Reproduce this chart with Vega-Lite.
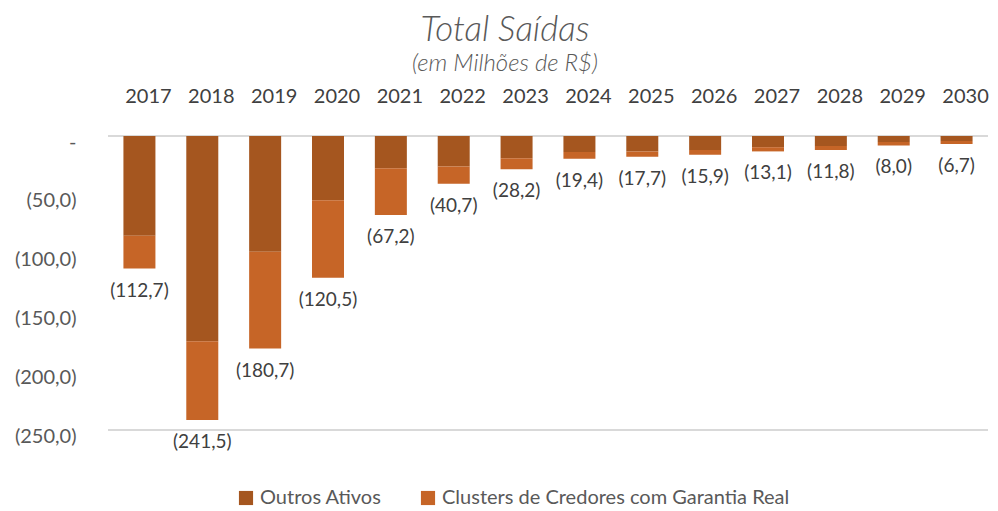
{
  "$schema": "https://vega.github.io/schema/vega-lite/v6.json",
  "width": 880,
  "height": 294,
  "autosize": {"type": "none"},
  "padding": {"left": 108, "top": 136, "right": 10, "bottom": 81},
  "background": "white",
  "title": {
    "text": "Total Saídas",
    "subtitle": "(em Milhões de R$)",
    "anchor": "middle",
    "dx": -43,
    "offset": 10,
    "font": "Lato",
    "fontSize": 35,
    "fontStyle": "italic",
    "fontWeight": 300,
    "color": "#595959",
    "subtitleFont": "Lato",
    "subtitleFontSize": 24,
    "subtitleFontStyle": "italic",
    "subtitleFontWeight": 300,
    "subtitleColor": "#595959",
    "subtitlePadding": 4
  },
  "config": {
    "view": {"stroke": null},
    "font": "Lato"
  },
  "datasets": {
    "bars": [
      {"ano": "2017", "serie": "Outros Ativos", "valor": -84.8, "ordem": 1},
      {"ano": "2017", "serie": "Clusters de Credores com Garantia Real", "valor": -27.9, "ordem": 2},
      {"ano": "2018", "serie": "Outros Ativos", "valor": -174.5, "ordem": 1},
      {"ano": "2018", "serie": "Clusters de Credores com Garantia Real", "valor": -67.0, "ordem": 2},
      {"ano": "2019", "serie": "Outros Ativos", "valor": -98.5, "ordem": 1},
      {"ano": "2019", "serie": "Clusters de Credores com Garantia Real", "valor": -82.2, "ordem": 2},
      {"ano": "2020", "serie": "Outros Ativos", "valor": -54.6, "ordem": 1},
      {"ano": "2020", "serie": "Clusters de Credores com Garantia Real", "valor": -65.9, "ordem": 2},
      {"ano": "2021", "serie": "Outros Ativos", "valor": -27.4, "ordem": 1},
      {"ano": "2021", "serie": "Clusters de Credores com Garantia Real", "valor": -39.8, "ordem": 2},
      {"ano": "2022", "serie": "Outros Ativos", "valor": -26.0, "ordem": 1},
      {"ano": "2022", "serie": "Clusters de Credores com Garantia Real", "valor": -14.7, "ordem": 2},
      {"ano": "2023", "serie": "Outros Ativos", "valor": -18.9, "ordem": 1},
      {"ano": "2023", "serie": "Clusters de Credores com Garantia Real", "valor": -9.3, "ordem": 2},
      {"ano": "2024", "serie": "Outros Ativos", "valor": -13.7, "ordem": 1},
      {"ano": "2024", "serie": "Clusters de Credores com Garantia Real", "valor": -5.7, "ordem": 2},
      {"ano": "2025", "serie": "Outros Ativos", "valor": -13.1, "ordem": 1},
      {"ano": "2025", "serie": "Clusters de Credores com Garantia Real", "valor": -4.6, "ordem": 2},
      {"ano": "2026", "serie": "Outros Ativos", "valor": -12.0, "ordem": 1},
      {"ano": "2026", "serie": "Clusters de Credores com Garantia Real", "valor": -3.9, "ordem": 2},
      {"ano": "2027", "serie": "Outros Ativos", "valor": -9.5, "ordem": 1},
      {"ano": "2027", "serie": "Clusters de Credores com Garantia Real", "valor": -3.6, "ordem": 2},
      {"ano": "2028", "serie": "Outros Ativos", "valor": -8.5, "ordem": 1},
      {"ano": "2028", "serie": "Clusters de Credores com Garantia Real", "valor": -3.3, "ordem": 2},
      {"ano": "2029", "serie": "Outros Ativos", "valor": -5.2, "ordem": 1},
      {"ano": "2029", "serie": "Clusters de Credores com Garantia Real", "valor": -2.8, "ordem": 2},
      {"ano": "2030", "serie": "Outros Ativos", "valor": -4.2, "ordem": 1},
      {"ano": "2030", "serie": "Clusters de Credores com Garantia Real", "valor": -2.5, "ordem": 2}
    ],
    "totais": [
      {"ano": "2017", "total": -112.7, "rotulo": "(112,7)"},
      {"ano": "2018", "total": -241.5, "rotulo": "(241,5)"},
      {"ano": "2019", "total": -180.7, "rotulo": "(180,7)"},
      {"ano": "2020", "total": -120.5, "rotulo": "(120,5)"},
      {"ano": "2021", "total": -67.2, "rotulo": "(67,2)"},
      {"ano": "2022", "total": -40.7, "rotulo": "(40,7)"},
      {"ano": "2023", "total": -28.2, "rotulo": "(28,2)"},
      {"ano": "2024", "total": -19.4, "rotulo": "(19,4)"},
      {"ano": "2025", "total": -17.7, "rotulo": "(17,7)"},
      {"ano": "2026", "total": -15.9, "rotulo": "(15,9)"},
      {"ano": "2027", "total": -13.1, "rotulo": "(13,1)"},
      {"ano": "2028", "total": -11.8, "rotulo": "(11,8)"},
      {"ano": "2029", "total": -8.0, "rotulo": "(8,0)"},
      {"ano": "2030", "total": -6.7, "rotulo": "(6,7)"}
    ],
    "linhas": [{"v": 0}, {"v": -250}]
  },
  "layer": [
    {
      "data": {"name": "linhas"},
      "mark": {"type": "rule", "color": "#D9D9D9", "strokeWidth": 2},
      "encoding": {
        "y": {"field": "v", "type": "quantitative", "scale": {"domain": [-250, 0]}}
      }
    },
    {
      "data": {"name": "bars"},
      "mark": {"type": "bar", "size": 32},
      "encoding": {
        "x": {
          "field": "ano", "type": "nominal", "sort": null,
          "axis": {
            "orient": "top", "title": null, "labelAngle": 0, "ticks": false, "domain": false,
            "labelPadding": 30, "labelFontSize": 20, "labelColor": "#404040", "labelOffset": 9,
            "labelFont": "Lato"
          }
        },
        "y": {
          "field": "valor", "type": "quantitative", "stack": "zero",
          "scale": {"domain": [-250, 0], "nice": false},
          "axis": {
            "title": null, "grid": false, "domain": false, "ticks": false,
            "values": [0, -50, -100, -150, -200, -250],
            "labelExpr": "datum.value == 0 ? '-' : '(' + replace(format(-datum.value, '.1f'), '.', ',') + ')'",
            "labelFontSize": 20, "labelColor": "#595959", "labelPadding": 32, "labelOffset": 6,
            "labelFont": "Lato"
          }
        },
        "color": {
          "field": "serie", "type": "nominal",
          "scale": {
            "domain": ["Outros Ativos", "Clusters de Credores com Garantia Real"],
            "range": ["#A5561F", "#C66527"]
          },
          "legend": {
            "title": null, "orient": "none", "direction": "horizontal",
            "legendX": 128, "legendY": 352,
            "symbolType": "square", "symbolSize": 200, "symbolStrokeWidth": 0,
            "labelFontSize": 20, "labelColor": "#595959", "labelFont": "Lato",
            "labelLimit": 0, "columnPadding": 36, "symbolOpacity": 1
          }
        },
        "order": {"field": "ordem", "type": "quantitative"}
      }
    },
    {
      "data": {"name": "totais"},
      "mark": {"type": "text", "baseline": "middle", "dy": 22, "fontSize": 19, "color": "#404040", "font": "Lato"},
      "encoding": {
        "x": {"field": "ano", "type": "nominal", "sort": null},
        "y": {"field": "total", "type": "quantitative"},
        "text": {"field": "rotulo"}
      }
    }
  ]
}
